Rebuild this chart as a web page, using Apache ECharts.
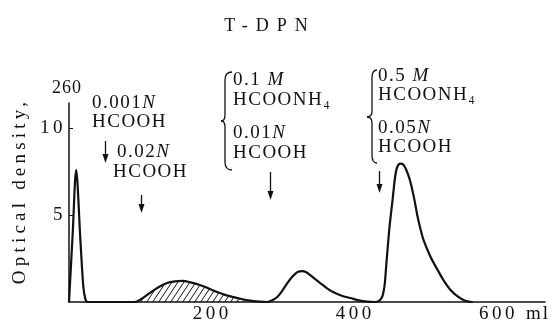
<!DOCTYPE html>
<html><head><meta charset="utf-8">
<script src="https://cdn.jsdelivr.net/npm/echarts@6/dist/echarts.min.js"></script>
<style>html,body{margin:0;padding:0;background:#fff}#c{width:557px;height:325px}</style>
</head><body><div id="c"></div>
<script>
// ---- data ----
const titleText = 'T-DPN';
const yAxisTitle = 'Optical density,';
const yAxisUnit = '260';
const xAxisUnit = 'ml';
const volumeMl = [0, 5, 10, 16, 20, 23, 26, 90,
  92, 100, 113, 125, 137, 148, 158, 170, 183, 195, 207, 218, 229, 241, 253, 265, 277,
  284, 291, 298, 305, 312, 319, 326, 331, 337, 344, 351, 360, 369, 381, 393, 405, 417, 427,
  434, 438, 441, 443, 445, 448, 452, 456, 459, 463, 467, 470, 474, 477, 482, 487, 491, 495, 505, 515, 524, 533, 542, 551, 558, 564];
const opticalDensity = [0, 3.8, 7.6, 3.5, 0.9, 0.15, 0, 0,
  0, 0.15, 0.52, 0.85, 1.09, 1.19, 1.21, 1.13, 0.98, 0.78, 0.57, 0.41, 0.29, 0.17, 0.08, 0.03, 0,
  0.1, 0.29, 0.65, 1.09, 1.45, 1.72, 1.78, 1.72, 1.55, 1.32, 1.09, 0.8, 0.57, 0.36, 0.23, 0.09, 0.02, 0,
  0.1, 0.35, 1.0, 2.0, 3.0, 4.4, 5.86, 7.3, 7.8, 7.95, 7.9, 7.7, 7.3, 6.9, 6.0, 4.9, 4.2, 3.6, 2.6, 1.84, 1.2, 0.69, 0.35, 0.12, 0.03, 0];
const xTickValues = [200, 400, 600];
const yTickValues = [5, 10];
const hatchRangeMl = [92, 253];
const arrowMl = [50, 101, 281, 433];
const annotationLines = [
  ['0.001N', 'HCOOH'],
  ['0.02N', 'HCOOH'],
  ['0.1 M', 'HCOONH₄', '0.01N', 'HCOOH'],
  ['0.5 M', 'HCOONH₄', '0.05N', 'HCOOH']
];

// ---- typography: letter-spacing + italic unit letters (canvas) ----
const FONT = '"Liberation Serif", "DejaVu Serif", serif';
const INK = '#111';
const spacingPx = (s) => {
  if (s === titleText) return 8;
  if (s === yAxisTitle) return 4.2;
  if (s === yAxisUnit) return 1;
  if (s === xAxisUnit) return 2;
  if (/^\d+$/.test(s)) return 3.5;
  return 1.5;
};
(function () {
  const proto = CanvasRenderingContext2D.prototype;
  const orig = proto.fillText;
  proto.fillText = function (s, x, y, mw) {
    const prev = this.letterSpacing;
    this.letterSpacing = spacingPx(String(s)) + 'px';
    const m = /^(0\.\d+ ?)([MN])$/.exec(String(s));
    if (m && (this.textAlign === 'left' || this.textAlign === 'start')) {
      orig.call(this, m[1], x, y);
      const w = this.measureText(m[1]).width;
      const f = this.font;
      this.font = 'italic ' + f;
      orig.call(this, m[2], x + w, y);
      this.font = f;
    } else if (mw === undefined) {
      orig.call(this, s, x, y);
    } else {
      orig.call(this, s, x, y, mw);
    }
    this.letterSpacing = prev;
  };
})();

// ---- chart ----
const chart = echarts.init(document.getElementById('c'), null, {renderer: 'canvas'});

const points = volumeMl.map((v, i) => [v, opticalDensity[i]]);
const hatchPoints = points.filter(p => p[0] >= hatchRangeMl[0] && p[0] <= hatchRangeMl[1]);

// hatch tile
const tile = document.createElement('canvas');
tile.width = 6; tile.height = 9;
const tc = tile.getContext('2d');
tc.strokeStyle = '#111'; tc.lineWidth = 1;
tc.beginPath();
[[-6, 9, 0, 0], [0, 9, 6, 0], [6, 9, 12, 0]].forEach(s => { tc.moveTo(s[0], s[1]); tc.lineTo(s[2], s[3]); });
tc.stroke();

const option = {
  animation: false,
  backgroundColor: '#fff',
  title: {
    text: titleText, left: 265, top: 12, textAlign: 'center',
    textStyle: {fontFamily: FONT, fontSize: 18, fontWeight: 'normal', color: INK}
  },
  grid: {left: 69, right: 12, top: 103, bottom: 23, containLabel: false},
  xAxis: {
    type: 'value', min: 0, max: 665,
    name: xAxisUnit, nameLocation: 'end', nameGap: 5,
    nameTextStyle: {fontFamily: FONT, fontSize: 19, color: INK, align: 'right', verticalAlign: 'top', padding: [3, 0, 0, 0]},
    axisLine: {lineStyle: {color: INK, width: 1.5}},
    axisTick: {show: false},
    splitLine: {show: false},
    axisLabel: {customValues: xTickValues, margin: 3, fontFamily: FONT, fontSize: 19, color: INK}
  },
  yAxis: {
    type: 'value', min: 0, max: 11.44,
    name: yAxisUnit, nameLocation: 'end', nameGap: 6,
    nameTextStyle: {fontFamily: FONT, fontSize: 18, color: INK, align: 'center', padding: [0, 0, 0, -4]},
    axisLine: {lineStyle: {color: INK, width: 1.5}},
    axisTick: {show: true, inside: true, length: 4, customValues: yTickValues, lineStyle: {color: INK}},
    splitLine: {show: false},
    axisLabel: {customValues: yTickValues, margin: 3, fontFamily: FONT, fontSize: 19, color: INK}
  },
  series: [
    {
      type: 'line', data: hatchPoints, symbol: 'none', smooth: 0.3, z: 1,
      lineStyle: {width: 0},
      areaStyle: {color: {image: tile, repeat: 'repeat'}, opacity: 1}
    },
    {
      type: 'line', data: points, symbol: 'none', smooth: 0.3, z: 3,
      lineStyle: {color: INK, width: 2.2}
    }
  ]
};
chart.setOption(option);

// annotations (text, arrows, braces)
const g = [];
const txt = (s, x, y) => ({type: 'text', x: x, y: y, style: {text: s, font: '19px ' + FONT, fill: INK, align: 'left', verticalAlign: 'middle'}});
g.push({type: 'text', x: 20, y: 191, rotation: Math.PI / 2,
  style: {text: yAxisTitle, font: '19px ' + FONT, fill: INK, align: 'center', verticalAlign: 'middle'}});
const blocks = [
  {x: [92, 92], y: [103, 122]},
  {x: [117, 113], y: [152, 172]},
  {x: [233, 233, 233, 233], y: [80, 100, 133, 153]},
  {x: [378, 378, 378, 378], y: [76, 95, 128, 147]}
];
annotationLines.forEach((lines, bi) => lines.forEach((s, li) => g.push(txt(s, blocks[bi].x[li], blocks[bi].y[li]))));
const arrowY = [[141, 163], [195, 213], [172, 200], [171, 193]];
arrowMl.forEach((ml, i) => {
  const x = Math.round(chart.convertToPixel({xAxisIndex: 0}, ml)) + 0.5;
  const [y1, y2] = arrowY[i];
  g.push({type: 'line', shape: {x1: x, y1: y1, x2: x, y2: y2 - 6}, style: {stroke: INK, lineWidth: 1.3}});
  g.push({type: 'polygon', shape: {points: [[x - 3, y2 - 9], [x + 3, y2 - 9], [x, y2]]}, style: {fill: INK}});
});
const braceStyle = {stroke: INK, lineWidth: 1.3, fill: null};
function brace(tx, sx, px, t, m, b) {
  const q = (x1, y1, cx, cy, x2, y2) => ({type: 'bezierCurve', shape: {x1, y1, cpx1: cx, cpy1: cy, x2, y2}, style: braceStyle});
  const l = (x1, y1, x2, y2) => ({type: 'line', shape: {x1, y1, x2, y2}, style: braceStyle});
  g.push(q(tx, t, sx, t, sx, t + 8), l(sx, t + 8, sx, m - 6), q(sx, m - 6, sx, m, px, m),
         q(px, m, sx, m, sx, m + 6), l(sx, m + 6, sx, b - 8), q(sx, b - 8, sx, b, tx, b));
}
brace(232, 225, 221, 72, 121, 170);
brace(377, 372, 367, 70, 117, 163);
chart.setOption({graphic: g});
</script></body></html>
